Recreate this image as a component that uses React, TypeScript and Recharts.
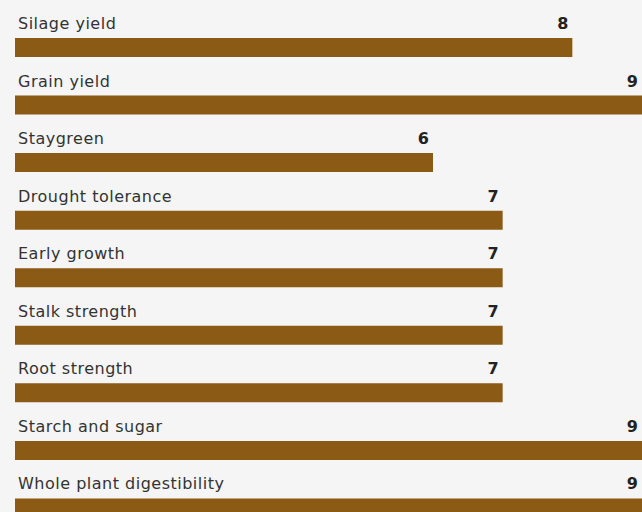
import React from "react";
import { BarChart, Bar, XAxis, YAxis, LabelList } from "recharts";

const categories = [
  "Silage yield",
  "Grain yield",
  "Staygreen",
  "Drought tolerance",
  "Early growth",
  "Stalk strength",
  "Root strength",
  "Starch and sugar",
  "Whole plant digestibility",
];
const scores = [8, 9, 6, 7, 7, 7, 7, 9, 9];

const data = categories.map((name, i) => ({ name, score: scores[i] }));

const FONT = "'DejaVu Sans', sans-serif";

const renderLabel = (props: any) => {
  const { x, y, width, index } = props;
  return (
    <g>
      <text
        x={x + 3}
        y={y - 9}
        fill="#333333"
        fontSize={16}
        letterSpacing={0.5}
        fontFamily={FONT}
        textAnchor="start"
      >
        {categories[index]}
      </text>
      <text
        x={x + width - 4}
        y={y - 9}
        fill="#222222"
        fontSize={16}
        fontWeight={700}
        fontFamily={FONT}
        textAnchor="end"
      >
        {scores[index]}
      </text>
    </g>
  );
};

export default function App() {
  return (
    <div
      style={{
        position: "fixed",
        left: 0,
        top: 0,
        width: 642,
        height: 512,
        overflow: "hidden",
        background: "#f5f5f5",
      }}
    >
      <BarChart
        width={642}
        height={537}
        data={data}
        layout="vertical"
        margin={{ top: 19, right: 0, bottom: 0, left: 15 }}
        barCategoryGap={0}
      >
        <XAxis type="number" domain={[0, 9]} hide />
        <YAxis type="category" dataKey="name" hide />
        <Bar dataKey="score" fill="#8b5a14" barSize={19} isAnimationActive={false}>
          <LabelList dataKey="score" content={renderLabel} />
        </Bar>
      </BarChart>
    </div>
  );
}
